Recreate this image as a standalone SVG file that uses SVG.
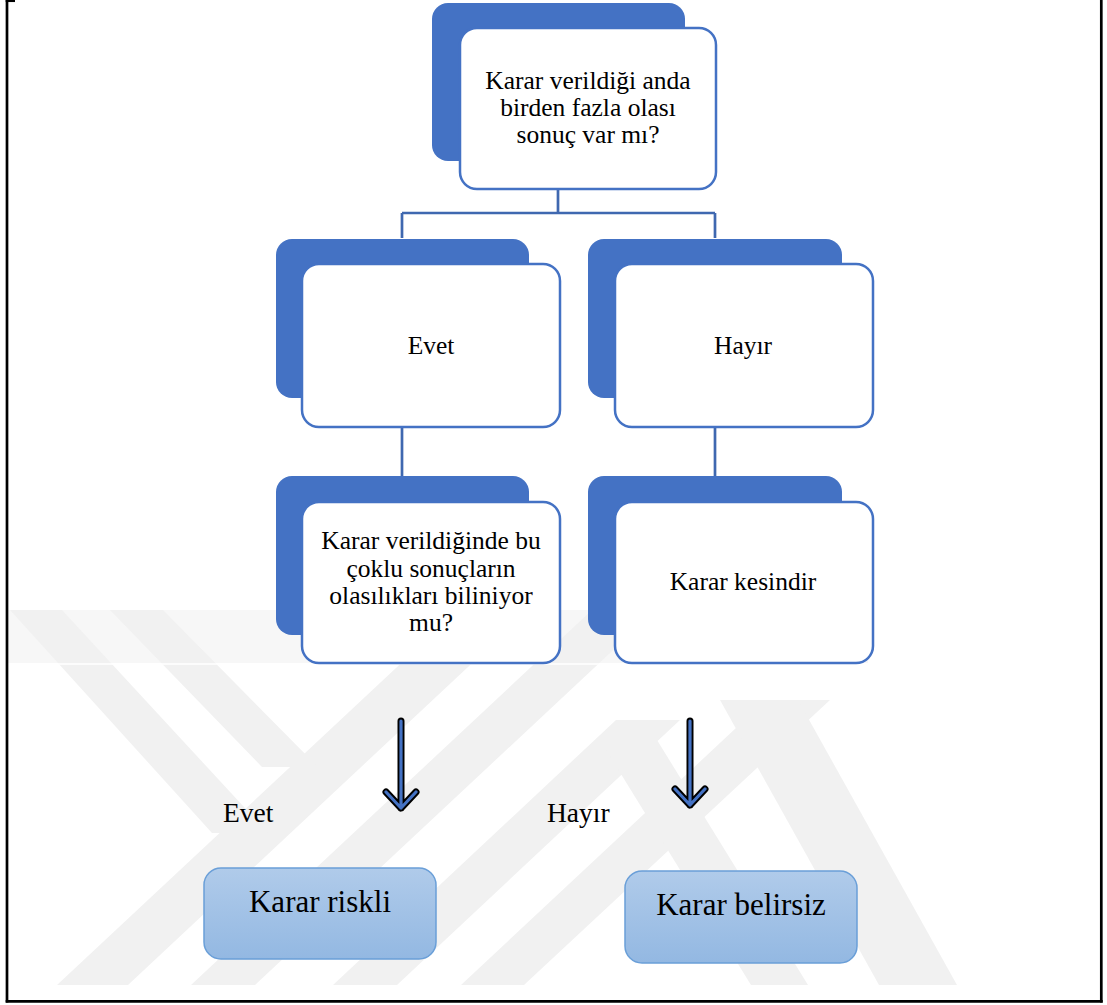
<svg xmlns="http://www.w3.org/2000/svg" width="1107" height="1005" viewBox="0 0 1107 1005">
  <defs>
    <style>
      .back { fill: #4472c4; }
      .front { fill: #ffffff; stroke: #4472c4; stroke-width: 2.5; }
      .txt { font-family: "Liberation Serif", "Times New Roman", serif; font-size: 25.5px; fill: #000; text-anchor: middle; }
      .lbl { font-family: "Liberation Serif", "Times New Roman", serif; font-size: 27.5px; fill: #000; }
      .big { font-family: "Liberation Serif", "Times New Roman", serif; font-size: 31px; fill: #000; text-anchor: middle; }
      .link { fill: none; stroke: #3f68b0; stroke-width: 2.7; }
      .result { fill: url(#resGrad); stroke: #6a9fd8; stroke-width: 1.5; }
      .arrowOut { fill: none; stroke: #000; stroke-width: 7; stroke-linecap: round; stroke-linejoin: round; }
      .arrowIn { fill: none; stroke: #4472c4; stroke-width: 3.2; stroke-linecap: round; stroke-linejoin: round; }
      .wm { fill: #f1f1f1; }
      .frame { stroke: #000; stroke-width: 2.7; fill: none; }
    </style>
    <linearGradient id="resGrad" x1="0" y1="0" x2="0" y2="1">
      <stop offset="0" stop-color="#b0cbea"/>
      <stop offset="1" stop-color="#93b8e2"/>
    </linearGradient>
    <clipPath id="wmClip">
      <rect x="8" y="610" width="1092" height="380"/>
    </clipPath>
  </defs>

  <rect width="1107" height="1005" fill="#ffffff"/>

  <!-- faint background emblem -->
  <g id="watermark" clip-path="url(#wmClip)">
    <rect x="8" y="610" width="860" height="53" fill="#f7f7f7"/>
    <!-- long rising strokes -->
    <polygon class="wm" points="57,985 128,985 529,610 458,610"/>
    <polygon class="wm" points="191,985 255,985 656,610 592,610"/>
    <polygon class="wm" points="333,985 397,985 680,720 616,720"/>
    <polygon class="wm" points="461,985 524,985 830,700 766,700"/>
    <!-- short falling strokes joining from the upper left -->
    <polygon class="wm" points="10,610 62,610 268,833 212,833"/>
    <polygon class="wm" points="110,610 163,610 318,767 262,767"/>
    <!-- falling strokes on the right -->
    <polygon class="wm" points="600,740 657,740 808,985 751,985"/>
    <polygon class="wm" points="720,700 798,700 957,985 879,985"/>
    <line x1="8" y1="664" x2="868" y2="664" stroke="#ffffff" stroke-width="1.5"/>
  </g>

  <!-- page frame -->
  <g id="frame">
    <line class="frame" x1="7" y1="0" x2="7" y2="1002.5"/>
    <line class="frame" x1="5.7" y1="1001.3" x2="1102.7" y2="1001.3"/>
    <line class="frame" x1="1101.3" y1="0" x2="1101.3" y2="1002.5"/>
    <line class="frame" x1="5.7" y1="0.7" x2="15" y2="0.7"/>
  </g>

  <!-- tree connectors and result arrows -->
  <g id="connectors">
    <path class="link" d="M558 189 V213 M402 213 H715 M402 213 V238 M715 213 V238"/>
    <path class="link" d="M402 427 V476"/>
    <path class="link" d="M715 427 V476"/>
    <path class="arrowOut" d="M401 721 V808 M386 792 L401 808 L416 792"/>
    <path class="arrowIn" d="M401 721 V808 M386 792 L401 808 L416 792"/>
    <path class="arrowOut" d="M690 721 V805 M675 789 L690 805 L705 789"/>
    <path class="arrowIn" d="M690 721 V805 M675 789 L690 805 L705 789"/>
  </g>

  <g id="node-question1">
    <rect class="back" x="432" y="3" width="253" height="158" rx="16"/>
    <rect class="front" x="460" y="28" width="256" height="161" rx="17"/>
    <text class="txt" x="588" y="89">Karar verildiği anda</text>
    <text class="txt" x="588" y="116">birden fazla olası</text>
    <text class="txt" x="588" y="143">sonuç var mı?</text>
  </g>

  <g id="node-evet">
    <rect class="back" x="276" y="239" width="253" height="159" rx="16"/>
    <rect class="front" x="302" y="264" width="258" height="163" rx="17"/>
    <text class="txt" x="431" y="354">Evet</text>
  </g>

  <g id="node-hayir">
    <rect class="back" x="588" y="239" width="254" height="159" rx="16"/>
    <rect class="front" x="615" y="264" width="258" height="163" rx="17"/>
    <text class="txt" x="743" y="354">Hayır</text>
  </g>

  <g id="node-question2">
    <rect class="back" x="276" y="476" width="253" height="159" rx="16"/>
    <rect class="front" x="302" y="502" width="258" height="161" rx="17"/>
    <text class="txt" x="431" y="549">Karar verildiğinde bu</text>
    <text class="txt" x="431" y="577">çoklu sonuçların</text>
    <text class="txt" x="431" y="604">olasılıkları biliniyor</text>
    <text class="txt" x="431" y="631">mu?</text>
  </g>

  <g id="node-kesin">
    <rect class="back" x="588" y="476" width="254" height="159" rx="16"/>
    <rect class="front" x="615" y="502" width="258" height="161" rx="17"/>
    <text class="txt" x="743" y="590">Karar kesindir</text>
  </g>

  <g id="label-evet">
    <text class="lbl" x="223" y="822">Evet</text>
  </g>
  <g id="label-hayir">
    <text class="lbl" x="547" y="822">Hayır</text>
  </g>

  <g id="node-riskli">
    <rect class="result" x="204" y="868" width="232" height="91" rx="17"/>
    <text class="big" x="320" y="912">Karar riskli</text>
  </g>

  <g id="node-belirsiz">
    <rect class="result" x="625" y="871" width="232" height="92" rx="17"/>
    <text class="big" x="741" y="915">Karar belirsiz</text>
  </g>
</svg>
